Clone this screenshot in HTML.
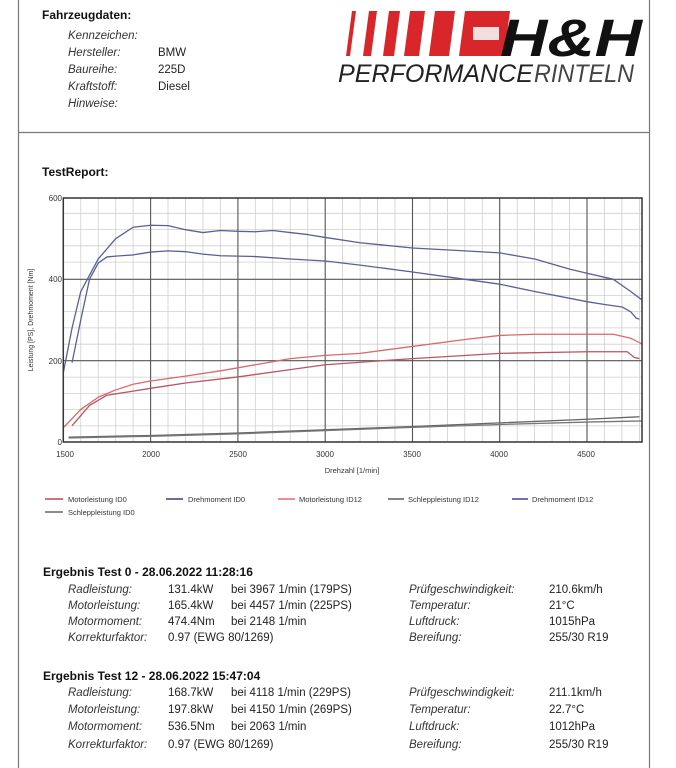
<!DOCTYPE html>
<html><head><meta charset="utf-8"><style>
html,body{margin:0;padding:0;background:#fff;}
svg{display:block;font-family:"Liberation Sans",Arial,sans-serif;}
.it{font-style:italic;fill:#333;font-size:11.5px}
.v{fill:#222;font-size:11.5px}
.b{font-weight:bold;fill:#111;font-size:12px}
.lg{font-size:7.5px;fill:#333}
.tk{font-size:8px;fill:#333}
</style></head><body>
<svg width="676" height="768" viewBox="0 0 676 768" xmlns="http://www.w3.org/2000/svg">
<defs><clipPath id="cp"><rect x="63.3" y="198" width="578.7" height="244"/></clipPath></defs>
<rect width="676" height="768" fill="#fff"/>
<line x1="18.5" y1="0" x2="18.5" y2="768" stroke="#777" stroke-width="1.2"/>
<line x1="649.5" y1="0" x2="649.5" y2="768" stroke="#777" stroke-width="1.2"/>
<line x1="18" y1="132.5" x2="650" y2="132.5" stroke="#777" stroke-width="1.2"/>

<text x="42" y="19" class="b">Fahrzeugdaten:</text>
<text x="68" y="39" class="it">Kennzeichen:</text>
<text x="68" y="56" class="it">Hersteller:</text><text x="158" y="56" class="v">BMW</text>
<text x="68" y="73" class="it">Baureihe:</text><text x="158" y="73" class="v">225D</text>
<text x="68" y="90" class="it">Kraftstoff:</text><text x="158" y="90" class="v">Diesel</text>
<text x="68" y="107" class="it">Hinweise:</text>

<g fill="#d8262a">
<polygon points="352,11 356,11 350,56 346,56"/>
<polygon points="369,11 377,11 371,56 363,56"/>
<polygon points="389,11 400,11 394,56 383,56"/>
<polygon points="410,11 425,11 419,56 404,56"/>
<polygon points="435,11 455,11 449,56 429,56"/>
<polygon points="465,11 510,11 504,56 459,56"/>
</g>
<rect x="473" y="27" width="26" height="13" fill="#f2dede"/>
<text x="500" y="56" font-size="53" font-weight="bold" font-style="italic" fill="#111" textLength="142" lengthAdjust="spacingAndGlyphs">H&amp;H</text>
<text x="338" y="82" font-size="25" font-style="italic" fill="#222" textLength="195" lengthAdjust="spacingAndGlyphs">PERFORMANCE</text>
<text x="534" y="82" font-size="25" font-style="italic" fill="#444" textLength="100" lengthAdjust="spacingAndGlyphs">RINTELN</text>

<text x="42" y="176" class="b">TestReport:</text>

<g stroke="#cfcfcf" stroke-width="0.8">
<line x1="63.3" x2="642" y1="213.3" y2="213.3"/><line x1="63.3" x2="642" y1="229.6" y2="229.6"/><line x1="63.3" x2="642" y1="245.8" y2="245.8"/><line x1="63.3" x2="642" y1="262.1" y2="262.1"/>
<line x1="63.3" x2="642" y1="295.4" y2="295.4"/><line x1="63.3" x2="642" y1="311.6" y2="311.6"/><line x1="63.3" x2="642" y1="327.9" y2="327.9"/><line x1="63.3" x2="642" y1="344.2" y2="344.2"/>
<line x1="63.3" x2="642" y1="377.1" y2="377.1"/><line x1="63.3" x2="642" y1="393.4" y2="393.4"/><line x1="63.3" x2="642" y1="409.6" y2="409.6"/><line x1="63.3" x2="642" y1="425.9" y2="425.9"/>
</g>
<g stroke="#cfcfcf" stroke-width="0.8">
<line y1="198" y2="442" x1="80.8" x2="80.8"/><line y1="198" y2="442" x1="98.2" x2="98.2"/><line y1="198" y2="442" x1="115.7" x2="115.7"/><line y1="198" y2="442" x1="133.1" x2="133.1"/>
<line y1="198" y2="442" x1="168.0" x2="168.0"/><line y1="198" y2="442" x1="185.5" x2="185.5"/><line y1="198" y2="442" x1="203.0" x2="203.0"/><line y1="198" y2="442" x1="220.4" x2="220.4"/>
<line y1="198" y2="442" x1="255.3" x2="255.3"/><line y1="198" y2="442" x1="272.8" x2="272.8"/><line y1="198" y2="442" x1="290.2" x2="290.2"/><line y1="198" y2="442" x1="307.7" x2="307.7"/>
<line y1="198" y2="442" x1="342.6" x2="342.6"/><line y1="198" y2="442" x1="360.1" x2="360.1"/><line y1="198" y2="442" x1="377.5" x2="377.5"/><line y1="198" y2="442" x1="395.0" x2="395.0"/>
<line y1="198" y2="442" x1="429.9" x2="429.9"/><line y1="198" y2="442" x1="447.4" x2="447.4"/><line y1="198" y2="442" x1="464.8" x2="464.8"/><line y1="198" y2="442" x1="482.3" x2="482.3"/>
<line y1="198" y2="442" x1="517.2" x2="517.2"/><line y1="198" y2="442" x1="534.6" x2="534.6"/><line y1="198" y2="442" x1="552.1" x2="552.1"/><line y1="198" y2="442" x1="569.6" x2="569.6"/>
<line y1="198" y2="442" x1="604.5" x2="604.5"/><line y1="198" y2="442" x1="621.9" x2="621.9"/><line y1="198" y2="442" x1="639.4" x2="639.4"/>
</g>
<g stroke="#555" stroke-width="1.1">
<line x1="63.3" x2="642" y1="279.3" y2="279.3"/><line x1="63.3" x2="642" y1="360.7" y2="360.7"/>
<line y1="198" y2="442" x1="150.6" x2="150.6"/><line y1="198" y2="442" x1="237.9" x2="237.9"/><line y1="198" y2="442" x1="325.2" x2="325.2"/><line y1="198" y2="442" x1="412.5" x2="412.5"/><line y1="198" y2="442" x1="499.7" x2="499.7"/><line y1="198" y2="442" x1="587.0" x2="587.0"/>
</g>

<g clip-path="url(#cp)">
<g transform="translate(-198.6,442) scale(0.1746,-0.4067)" fill="none" stroke-width="1.3" stroke-linejoin="round">
<polyline vector-effect="non-scaling-stroke" stroke="#5a5f99" points="1500,170 1550,280 1600,370 1700,450 1800,500 1900,528 2000,533 2100,532 2200,522 2300,515 2400,520 2500,518 2600,517 2700,520 2800,515 2900,510 3000,503 3200,490 3500,477 3800,470 4000,465 4200,450 4400,425 4500,415 4650,400 4750,370 4843,340"/>
<polyline vector-effect="non-scaling-stroke" stroke="#5a5f99" points="1550,195 1600,300 1650,400 1700,440 1750,455 1800,457 1900,460 2000,467 2100,470 2200,468 2300,462 2400,458 2600,456 2800,450 3000,445 3200,435 3500,418 3800,400 4000,388 4200,370 4500,345 4600,338 4700,332 4750,320 4780,305 4800,302"/>
<polyline vector-effect="non-scaling-stroke" stroke="#d86a6a" points="1500,35 1600,80 1700,110 1800,128 1900,142 2000,150 2200,162 2400,175 2600,190 2800,205 3000,213 3200,218 3500,235 3800,252 4000,262 4200,265 4500,265 4650,265 4750,255 4843,235"/>
<polyline vector-effect="non-scaling-stroke" stroke="#b9565e" points="1550,40 1650,90 1750,115 1900,125 2000,132 2200,145 2500,160 2800,178 3000,190 3500,205 4000,218 4500,222 4730,222 4770,208 4800,205"/>
<polyline vector-effect="non-scaling-stroke" stroke="#666" points="1530,12 2000,16 2500,22 3000,30 3500,38 4000,47 4500,56 4800,62"/>
<polyline vector-effect="non-scaling-stroke" stroke="#777" points="1530,10 2000,14 2500,20 3000,28 3500,36 4000,43 4500,49 4843,52"/>
</g>
</g>
<rect x="63.3" y="198" width="578.7" height="244" fill="none" stroke="#333" stroke-width="1.5"/>

<g class="tk" text-anchor="end">
<text x="62" y="201">600</text><text x="62" y="282">400</text><text x="62" y="364">200</text><text x="62" y="445">0</text>
</g>
<g class="tk" text-anchor="middle">
<text x="65" y="457">1500</text><text x="151" y="457">2000</text><text x="238" y="457">2500</text><text x="325" y="457">3000</text><text x="412" y="457">3500</text><text x="499" y="457">4000</text><text x="586" y="457">4500</text>
<text x="352" y="473" font-size="7.5">Drehzahl [1/min]</text>
</g>
<text transform="translate(33,320) rotate(-90)" text-anchor="middle" font-size="7" fill="#333">Leistung [PS], Drehmoment [Nm]</text>

<g stroke-width="1.6">
<line x1="45" x2="63" y1="499" y2="499" stroke="#c0454f"/>
<line x1="166" x2="183" y1="499" y2="499" stroke="#3a3f7a"/>
<line x1="278" x2="295" y1="499" y2="499" stroke="#e06a72"/>
<line x1="388" x2="404" y1="499" y2="499" stroke="#666"/>
<line x1="512" x2="528" y1="499" y2="499" stroke="#4a4f99"/>
<line x1="45" x2="63" y1="512" y2="512" stroke="#666"/>
</g>
<g class="lg">
<text x="68" y="502">Motorleistung ID0</text>
<text x="188" y="502">Drehmoment ID0</text>
<text x="299" y="502">Motorleistung ID12</text>
<text x="408" y="502">Schleppleistung ID12</text>
<text x="532" y="502">Drehmoment ID12</text>
<text x="68" y="515">Schleppleistung ID0</text>
</g>

<text x="43" y="576" class="b" font-size="11.5">Ergebnis Test 0 - 28.06.2022 11:28:16</text>
<g class="it"><text x="68" y="593">Radleistung:</text><text x="68" y="609">Motorleistung:</text><text x="68" y="625">Motormoment:</text><text x="68" y="641">Korrekturfaktor:</text></g>
<g class="v"><text x="168" y="593">131.4kW</text><text x="231" y="593">bei 3967 1/min (179PS)</text>
<text x="168" y="609">165.4kW</text><text x="231" y="609">bei 4457 1/min (225PS)</text>
<text x="168" y="625">474.4Nm</text><text x="231" y="625">bei 2148 1/min</text>
<text x="168" y="641">0.97 (EWG 80/1269)</text></g>
<g class="it"><text x="409" y="593">Prüfgeschwindigkeit:</text><text x="409" y="609">Temperatur:</text><text x="409" y="625">Luftdruck:</text><text x="409" y="641">Bereifung:</text></g>
<g class="v"><text x="549" y="593">210.6km/h</text><text x="549" y="609">21°C</text><text x="549" y="625">1015hPa</text><text x="549" y="641">255/30 R19</text></g>

<text x="43" y="680" class="b" font-size="11.5">Ergebnis Test 12 - 28.06.2022 15:47:04</text>
<g class="it"><text x="68" y="696">Radleistung:</text><text x="68" y="713">Motorleistung:</text><text x="68" y="730">Motormoment:</text><text x="68" y="748">Korrekturfaktor:</text></g>
<g class="v"><text x="168" y="696">168.7kW</text><text x="231" y="696">bei 4118 1/min (229PS)</text>
<text x="168" y="713">197.8kW</text><text x="231" y="713">bei 4150 1/min (269PS)</text>
<text x="168" y="730">536.5Nm</text><text x="231" y="730">bei 2063 1/min</text>
<text x="168" y="748">0.97 (EWG 80/1269)</text></g>
<g class="it"><text x="409" y="696">Prüfgeschwindigkeit:</text><text x="409" y="713">Temperatur:</text><text x="409" y="730">Luftdruck:</text><text x="409" y="748">Bereifung:</text></g>
<g class="v"><text x="549" y="696">211.1km/h</text><text x="549" y="713">22.7°C</text><text x="549" y="730">1012hPa</text><text x="549" y="748">255/30 R19</text></g>
</svg>
</body></html>
